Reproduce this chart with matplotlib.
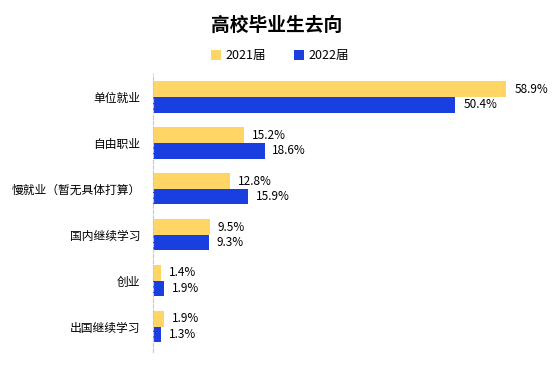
import matplotlib
matplotlib.use("Agg")
import matplotlib.pyplot as plt
import numpy as np

plt.rcParams['font.family'] = ['Noto Sans CJK SC', 'DejaVu Sans']

# 数据
categories = ["单位就业", "自由职业", "慢就业（暂无具体打算）", "国内继续学习", "创业", "出国继续学习"]
series_names = ["2021届", "2022届"]
values_2021 = [58.9, 15.2, 12.8, 9.5, 1.4, 1.9]
values_2022 = [50.4, 18.6, 15.9, 9.3, 1.9, 1.3]

c2021 = "#FFD666"
c2022 = "#1A3FE0"

fig = plt.figure(figsize=(5.54, 3.68), dpi=100)
ax = fig.add_axes([153 / 554, 1 - 352 / 368, 387 / 554, (352 - 74) / 368])

y = np.arange(len(categories))
h = 0.34
ax.barh(y - h / 2, values_2021, height=h, color=c2021, label=series_names[0])
ax.barh(y + h / 2, values_2022, height=h, color=c2022, label=series_names[1])

for i in range(len(categories)):
    ax.text(values_2021[i] + 1.3, y[i] - h / 2, f"{values_2021[i]}%", va="center", ha="left", fontsize=8.5)
    ax.text(values_2022[i] + 1.3, y[i] + h / 2, f"{values_2022[i]}%", va="center", ha="left", fontsize=8.5)

ax.set_yticks(y)
ax.set_yticklabels(categories, fontsize=8.5)
ax.set_ylim(len(categories) - 0.45, -0.5)
ax.set_xlim(0, 64.5)
ax.set_xticks([])
ax.tick_params(axis="y", length=0, pad=9)
for s in ["top", "right", "bottom"]:
    ax.spines[s].set_visible(False)
ax.spines["left"].set_color("#c8c8c8")
ax.spines["left"].set_linestyle((0, (3, 2)))
ax.spines["left"].set_linewidth(0.8)

fig.text(0.5, 1 - 25 / 368, "高校毕业生去向", ha="center", va="center", fontsize=13.5, fontweight="bold")
fig.legend(loc="center", bbox_to_anchor=(0.505, 1 - 56 / 368), ncol=2, frameon=False, fontsize=9,
           handlelength=0.8, handleheight=0.8, columnspacing=2.2, handletextpad=0.4)

fig.savefig("out.png", dpi=100)
